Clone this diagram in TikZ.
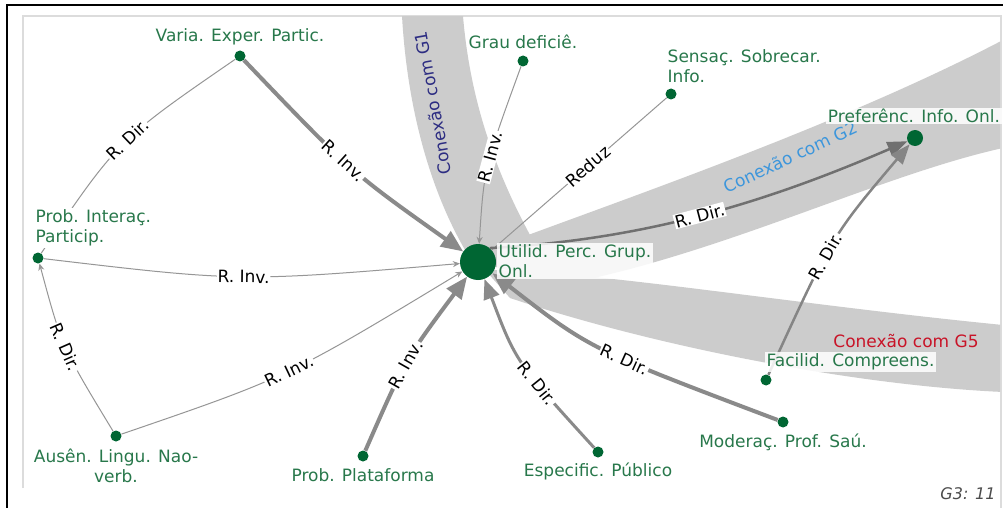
\documentclass[tikz,border=0pt]{standalone}
\usepackage{fontspec}
\setmainfont{DejaVu Sans}
\usetikzlibrary{arrows.meta}
\definecolor{dotgreen}{RGB}{0,102,51}
\definecolor{lblgreen}{RGB}{40,120,75}
\definecolor{bandgray}{RGB}{204,204,204}
\definecolor{g1blue}{RGB}{45,45,130}
\definecolor{g2blue}{RGB}{60,150,220}
\definecolor{g5red}{RGB}{200,20,40}
\definecolor{edgethin}{RGB}{150,150,150}
\definecolor{edgethick}{RGB}{138,138,138}
\definecolor{edgemid}{RGB}{112,112,112}
\definecolor{framegray}{RGB}{220,220,220}
\begin{document}
\begin{tikzpicture}[x=1pt,y=-1pt,
  gdot/.style={circle, fill=dotgreen, inner sep=0pt, minimum size=11pt},
  nlabel/.style={text=lblgreen, fill=white, fill opacity=0.85, text opacity=1, inner sep=1.5pt, font=\fontsize{17}{20}\selectfont, align=left},
  elabel/.style={fill=white, text=black, inner sep=0.8pt, font=\fontsize{17}{19}\selectfont, sloped},
  thinedge/.style={draw=edgethin, line width=1pt, -{Stealth[length=7pt,width=6pt]}},
  thickedge/.style={draw=edgethick, line width=4pt, -{Triangle[length=22pt,width=18pt]}},
  esedge/.style={draw=edgethick, line width=3pt, -{Triangle[length=20pt,width=16pt]}},
  midedge/.style={draw=edgemid, line width=2.5pt, -{Triangle[length=20pt,width=15pt]}},
  bandfill/.style={fill=bandgray},
  gtext/.style={font=\fontsize{17}{20}\selectfont, inner sep=0pt}
]
\useasboundingbox (0,0) rectangle (1003,508);
\fill[white] (0,0) rectangle (1003,508);
% frames
\draw[framegray, line width=2pt] (22.5,488) -- (22.5,16.5) -- (1001,16.5) -- (1001,508);
\draw[black, line width=2pt] (6,5.5) -- (1003,5.5);
\draw[black, line width=2pt] (6.5,4.5) -- (6.5,508);
% bands
\begin{scope}
\clip (23,17) rectangle (1000,508);
\fill[bandfill] (402,16) .. controls (408,120) and (435,200) .. (468,255) -- (478,262) -- (530,235) .. controls (495,170) and (470,100) .. (463,16) -- cycle;
\fill[bandfill] (478,262) -- (520,238) .. controls (650,190) and (850,120) .. (1003,40) -- (1003,148) .. controls (880,175) and (720,255) .. (560,285) -- cycle;
\fill[bandfill] (478,262) -- (495,270) .. controls (600,272) and (800,305) .. (1003,325) -- (1003,392) .. controls (850,385) and (650,345) .. (510,298) -- cycle;
\end{scope}
% band texts
\node[gtext, text=g1blue, rotate=100] (G1t) at (433,103) {Conexão com G1};
\node[gtext, text=g2blue, rotate=25] (G2t) at (790,157) {Conexão com G2};
% dots
\node[circle, fill=dotgreen, inner sep=0pt, minimum size=36pt] (U) at (478,262) {};
\node[gdot] (V) at (240,56) {};
\node[gdot] (GD) at (523,61) {};
\node[gdot] (SS) at (671,94) {};
\node[gdot, minimum size=16pt] (PR) at (915,138) {};
\node[gdot] (PI) at (38,258) {};
\node[gdot] (AL) at (116,436) {};
\node[gdot] (PP) at (363,456) {};
\node[gdot] (ES) at (598,452) {};
\node[gdot] (MP) at (783,422) {};
\node[gdot] (FC) at (766,380) {};
% edges
\draw[thickedge] (V) .. controls (351,172) .. (U) node[elabel,pos=0.45]{R. Inv.};
\draw[draw=edgethin, line width=1pt] (V) .. controls (118,140) .. (PI) node[elabel,pos=0.47]{R. Dir.};
\draw[thinedge] (PI) .. controls (241,282) .. (U) node[elabel,pos=0.5]{R. Inv.};
\draw[thinedge] (AL) .. controls (62,347) .. (PI) node[elabel,pos=0.5]{R. Dir.};
\draw[thinedge] (AL) .. controls (288,377) .. (U) node[elabel,pos=0.5]{R. Inv.};
\draw[thickedge] (PP) .. controls (405,360) .. (U) node[elabel,pos=0.47]{R. Inv.};
\draw[thinedge] (GD) .. controls (484,168) .. (U) node[elabel,pos=0.44]{R. Inv.};
\draw[draw=edgethin, line width=1pt] (SS) -- (U) node[elabel,pos=0.45]{Reduz};
\draw[midedge] (U.50) .. controls (640,240) and (760,205) .. (PR) node[elabel,pos=0.5]{R. Dir.};
\draw[midedge, draw=edgemid!85!white] (FC) .. controls (832,236) .. (PR) node[elabel,pos=0.42]{R. Dir.};
\draw[esedge] (ES) .. controls (516,362) .. (U) node[elabel,pos=0.34]{R. Dir.};
\draw[thickedge] (MP) .. controls (590,349) .. (U) node[elabel,pos=0.4]{R. Dir.};
% node labels
\node[nlabel] (Vl) at (240,37) {Varia. Exper. Partic.};
\node[nlabel] (GDl) at (523,42) {Grau deficiê.};
\node[nlabel, anchor=west] (SSl) at (666,66) {Sensaç. Sobrecar.\\Info.};
\node[nlabel] (PRl) at (914,116) {Preferênc. Info. Onl.};
\node[nlabel, anchor=west, fill opacity=1] (PIl) at (34,228) {Prob. Interaç.\\Particip.};
\node[nlabel, align=center] (ALl) at (116,466) {Ausên. Lingu. Nao-\\verb.};
\node[nlabel] (PPl) at (363,475) {Prob. Plataforma};
\node[nlabel] (ESl) at (598,471) {Especific. Público};
\node[nlabel] (MPl) at (783,442) {Moderaç. Prof. Saú.};
\node[nlabel, anchor=west] (FCl) at (765,362) {Facilid. Compreens.};
\node[nlabel, anchor=west] (Ul) at (497,261) {Utilid. Perc. Grup.\\Onl.};
\node[gtext, text=g5red] (G5t) at (906,341) {Conexão com G5};
\node[gtext, text=black!70, font=\fontsize{16}{18}\selectfont\itshape] (G3t) at (968,494) {G3: 11};
\end{tikzpicture}
\end{document}
